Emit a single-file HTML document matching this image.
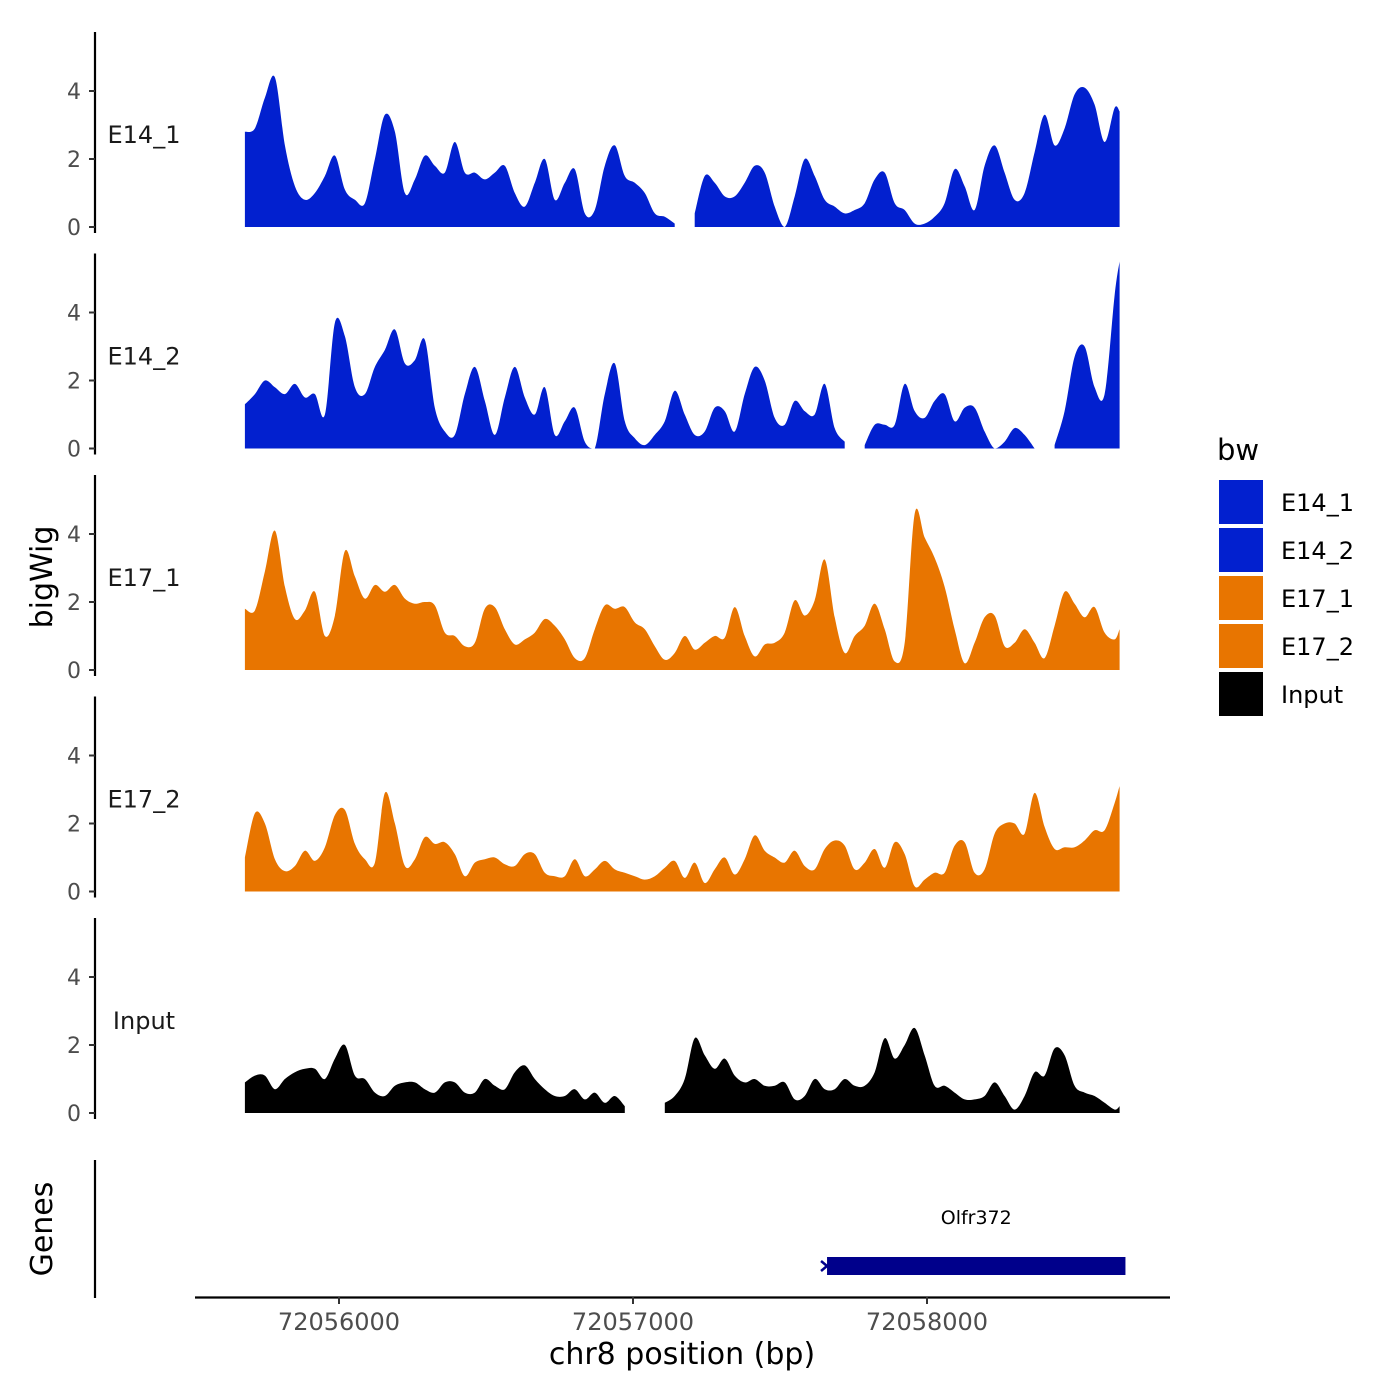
<!DOCTYPE html>
<html><head><meta charset="utf-8"><style>
body{margin:0;background:#fff}
svg{display:block;font-family:"DejaVu Sans","Liberation Sans",sans-serif}
</style></head><body>
<svg id="chart" width="1400" height="1400" viewBox="0 0 1400 1400" xmlns="http://www.w3.org/2000/svg">
<g id="tracks"></g>
<g id="axes"></g>
</svg>
<script>
const trackNames = ["E14_1","E14_2","E17_1","E17_2","Input"];
const trackColors = ["#0220CF","#0220CF","#E87500","#E87500","#000000"];
const startBp = 72055680;
const stepBp = 34;
const endBp = 72058655;
const N = NaN;
const e14_1 = [2.8,2.9,3.8,4.4,2.4,1.2,0.8,1.0,1.5,2.1,1.1,0.8,0.7,2.0,3.3,2.8,1.0,1.4,2.1,1.8,1.6,2.5,1.6,1.6,1.4,1.6,1.8,1.0,0.6,1.3,2.0,0.8,1.3,1.7,0.4,0.5,1.8,2.4,1.5,1.3,1.0,0.4,0.3,0.1,N,0.4,1.5,1.3,0.9,0.9,1.3,1.8,1.6,0.6,0.0,0.9,2.0,1.5,0.8,0.6,0.4,0.5,0.7,1.4,1.6,0.7,0.5,0.1,0.1,0.3,0.7,1.7,1.2,0.5,1.8,2.4,1.6,0.8,1.0,2.2,3.3,2.4,2.9,3.9,4.1,3.6,2.5,3.5,3.4];
const e14_2 = [1.3,1.6,2.0,1.8,1.6,1.9,1.5,1.6,1.0,3.7,3.3,1.8,1.6,2.4,2.9,3.5,2.5,2.6,3.2,1.2,0.5,0.4,1.6,2.4,1.4,0.4,1.5,2.4,1.5,1.0,1.8,0.4,0.8,1.2,0.2,0.0,1.6,2.5,0.8,0.3,0.1,0.4,0.8,1.7,1.0,0.4,0.5,1.2,1.1,0.5,1.6,2.4,2.0,0.9,0.7,1.4,1.1,1.0,1.9,0.6,0.2,N,0.1,0.7,0.7,0.7,1.9,1.1,0.9,1.4,1.6,0.8,1.2,1.2,0.5,0.0,0.2,0.6,0.4,0.0,N,0.1,1.1,2.7,3.0,1.8,1.6,4.5,5.5];
const e17_1 = [1.8,1.75,2.9,4.1,2.45,1.5,1.75,2.3,1.0,1.6,3.5,2.75,2.1,2.5,2.3,2.5,2.1,1.95,2.0,1.9,1.1,1.0,0.7,0.8,1.8,1.85,1.2,0.75,0.9,1.1,1.5,1.3,0.9,0.35,0.35,1.2,1.9,1.8,1.85,1.4,1.2,0.7,0.3,0.5,1.0,0.6,0.8,1.0,0.95,1.85,1.0,0.4,0.75,0.8,1.1,2.05,1.6,2.05,3.25,1.55,0.5,1.0,1.3,1.95,1.2,0.25,0.8,4.6,3.9,3.3,2.45,1.2,0.2,0.8,1.55,1.6,0.7,0.8,1.2,0.8,0.35,1.3,2.3,1.95,1.55,1.85,1.1,0.9,1.2];
const e17_2 = [1.0,2.3,2.0,0.95,0.6,0.75,1.2,0.9,1.3,2.25,2.4,1.4,0.95,0.85,2.9,2.0,0.75,0.95,1.6,1.4,1.45,1.1,0.45,0.85,0.95,1.0,0.8,0.75,1.1,1.1,0.55,0.45,0.45,0.95,0.45,0.65,0.9,0.65,0.55,0.45,0.35,0.45,0.7,0.9,0.4,0.85,0.25,0.65,1.0,0.5,0.95,1.65,1.2,1.0,0.85,1.2,0.75,0.65,1.25,1.5,1.35,0.65,0.85,1.25,0.7,1.45,1.1,0.15,0.35,0.55,0.55,1.35,1.45,0.55,0.65,1.7,2.0,2.0,1.7,2.9,1.9,1.25,1.3,1.3,1.5,1.8,1.8,2.6,3.1];
const input = [0.9,1.1,1.1,0.7,1.0,1.2,1.3,1.3,1.0,1.6,2.0,1.1,1.0,0.6,0.5,0.8,0.9,0.9,0.7,0.6,0.9,0.9,0.6,0.6,1.0,0.8,0.7,1.2,1.4,1.0,0.7,0.5,0.5,0.7,0.4,0.6,0.3,0.5,0.2,N,N,N,0.3,0.5,1.0,2.2,1.7,1.3,1.6,1.1,0.9,1.0,0.8,0.8,0.9,0.4,0.5,1.0,0.7,0.7,1.0,0.8,0.8,1.2,2.2,1.6,2.0,2.5,1.7,0.8,0.8,0.6,0.4,0.4,0.5,0.9,0.5,0.1,0.5,1.2,1.1,1.9,1.7,0.8,0.6,0.5,0.3,0.1,0.2];
const trackValues = [e14_1,e14_2,e17_1,e17_2,input];
const yTicks = [0,2,4];
const xTicks = [72056000,72057000,72058000];
const xTickLabels = ["72056000","72057000","72058000"];
const geneName = "Olfr372";
const geneStart = 72057660;
const geneEnd = 72058675;

const NS="http://www.w3.org/2000/svg";
function xs(bp){return 339+(bp-72056000)*0.294;}
const baselines=[227,448.5,670,891.5,1113];
function ys(i,v){return baselines[i]-v*34;}
function mk(tag,attrs,parent){const e=document.createElementNS(NS,tag);for(const k in attrs)e.setAttribute(k,attrs[k]);parent.appendChild(e);return e;}
const tracksG=document.getElementById('tracks');
const axesG=document.getElementById('axes');

function smoothPath(pts,b){
  // pts in pixel coords; Catmull-Rom to bezier, clamp to baseline
  let d="M"+pts[0][0].toFixed(1)+","+b+" L"+pts[0][0].toFixed(1)+","+pts[0][1].toFixed(1)+" ";
  for(let i=0;i<pts.length-1;i++){
    const p0=pts[Math.max(0,i-1)],p1=pts[i],p2=pts[i+1],p3=pts[Math.min(pts.length-1,i+2)];
    const c1x=p1[0]+(p2[0]-p0[0])/6, c1y=Math.min(b,p1[1]+(p2[1]-p0[1])/6);
    const c2x=p2[0]-(p3[0]-p1[0])/6, c2y=Math.min(b,p2[1]-(p3[1]-p1[1])/6);
    d+="C"+c1x.toFixed(1)+","+c1y.toFixed(1)+" "+c2x.toFixed(1)+","+c2y.toFixed(1)+" "+p2[0].toFixed(1)+","+p2[1].toFixed(1)+" ";
  }
  d+="L"+pts[pts.length-1][0].toFixed(1)+","+b+" Z ";
  return d;
}

trackValues.forEach((vals,ti)=>{
  const n=vals.length;
  const pos=vals.map((v,i)=> i===n-1? endBp : startBp+i*stepBp);
  const b=baselines[ti];
  let d="",seg=[];
  const flush=()=>{if(seg.length){d+=smoothPath(seg.map(p=>[xs(p[0]),ys(ti,p[1])]),b);}seg=[];};
  vals.forEach((v,i)=>{if(isNaN(v))flush();else seg.push([pos[i],v]);});
  flush();
  const p=mk('path',{d:d,fill:trackColors[ti]},tracksG);
  
  
  const ax=mk('line',{x1:95,x2:95,y1:b-195,y2:b+6,stroke:'#000','stroke-width':2.2},axesG);
  
  
  yTicks.forEach(t=>{
    const tl=mk('line',{x1:89,x2:95,y1:ys(ti,t),y2:ys(ti,t),stroke:'#333','stroke-width':2},axesG);
    
    
    const tx=mk('text',{x:81,y:ys(ti,t)+8,'text-anchor':'end','font-size':22,fill:'#4d4d4d'},axesG);
    tx.textContent=t;
    
    
  });
  const lb=mk('text',{x:144,y:b-92+8,'text-anchor':'middle','font-size':24,fill:'#1a1a1a'},axesG);
  lb.textContent=trackNames[ti];
  
  
});

const ga=mk('line',{x1:95,x2:95,y1:1160,y2:1298,stroke:'#000','stroke-width':2.2},axesG);


const gr=mk('rect',{x:xs(geneStart),y:1257,width:xs(geneEnd)-xs(geneStart),height:18,fill:'#00008B'},axesG);


const gm=mk('path',{d:`M${xs(geneStart)-6},1261 L${xs(geneStart)},1266 L${xs(geneStart)-6},1271`,stroke:'#00008B','stroke-width':2.5,fill:'none'},axesG);


const gl=mk('text',{x:(xs(geneStart)+xs(geneEnd))/2,y:1224,'text-anchor':'middle','font-size':19,fill:'#000'},axesG);
gl.textContent=geneName;



const xa=mk('line',{x1:195,x2:1170,y1:1297.5,y2:1297.5,stroke:'#000','stroke-width':2.2},axesG);


xTicks.forEach((t,i)=>{
  const tl=mk('line',{x1:xs(t),x2:xs(t),y1:1297,y2:1304,stroke:'#333','stroke-width':2},axesG);
  
  
  const tx=mk('text',{x:xs(t),y:1330,'text-anchor':'middle','font-size':24,fill:'#4d4d4d'},axesG);
  tx.textContent=xTickLabels[i];
  
  
});
const xt=mk('text',{x:682,y:1364,'text-anchor':'middle','font-size':30,fill:'#000'},axesG);
xt.textContent="chr8 position (bp)";


const yt=mk('text',{x:0,y:0,transform:'translate(52,577) rotate(-90)','text-anchor':'middle','font-size':30,fill:'#000'},axesG);
yt.textContent="bigWig";


const gt=mk('text',{x:0,y:0,transform:'translate(52,1229) rotate(-90)','text-anchor':'middle','font-size':30,fill:'#000'},axesG);
gt.textContent="Genes";



const lt=mk('text',{x:1217,y:460,'font-size':29,fill:'#000'},axesG);
lt.textContent="bw";


trackNames.forEach((nm,i)=>{
  const g=mk('g',{},axesG);
  
  
  const r=mk('rect',{x:1219,y:480+i*48,width:44,height:44,fill:trackColors[i]},g);
  
  
  const t=mk('text',{x:1281,y:511+i*48,'font-size':24,fill:'#000'},g);
  t.textContent=nm;
  
  
});
</script>
</body></html>
